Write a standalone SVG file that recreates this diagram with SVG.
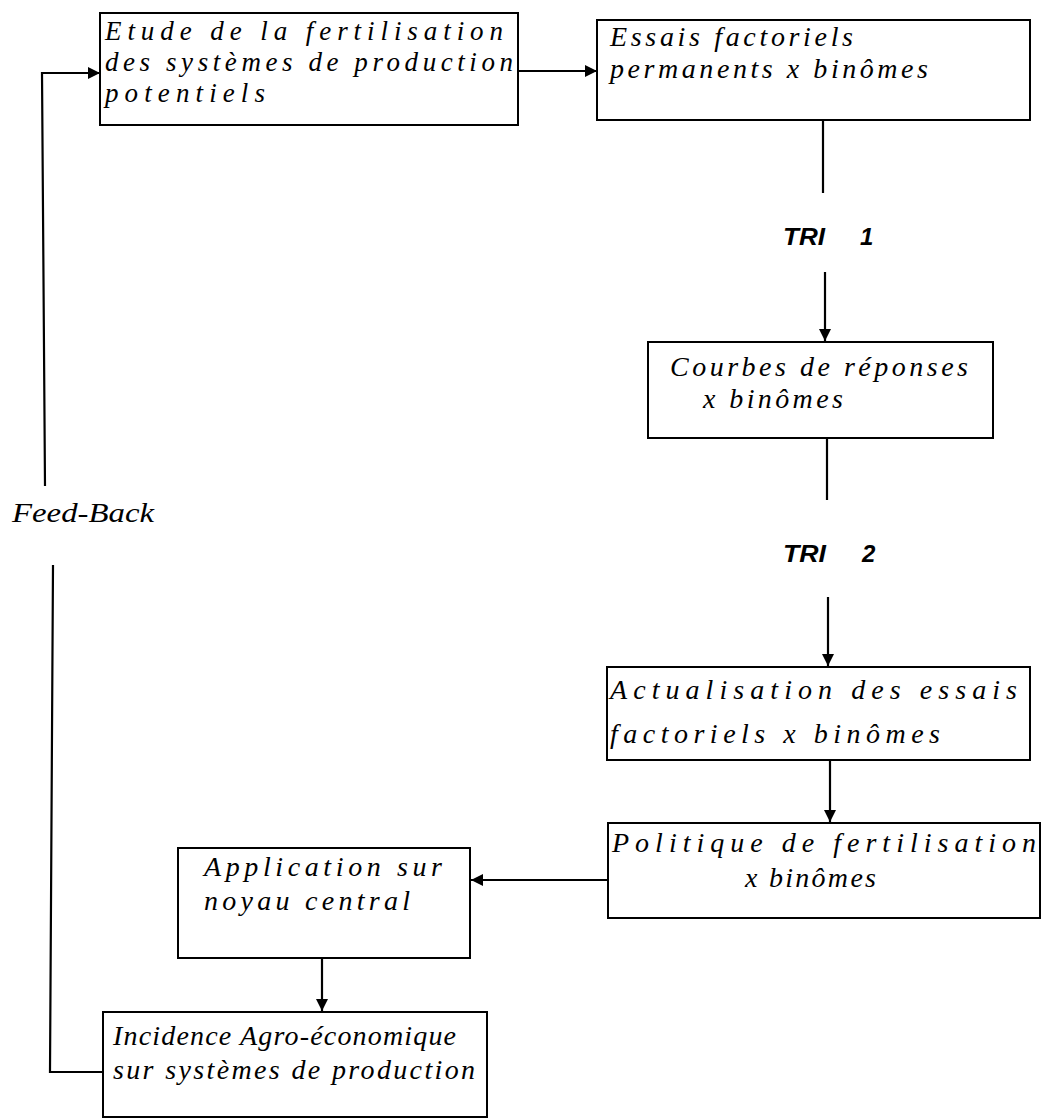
<svg xmlns="http://www.w3.org/2000/svg" width="1049" height="1119" viewBox="0 0 1049 1119">
  <style>
    .box { fill: #fff; stroke: #000; stroke-width: 2; }
    .hand { font-family: "Liberation Serif", "DejaVu Serif", serif; font-style: italic; font-size: 28px; fill: #000; }
    .small { font-size: 27px; }
    .tri { font-family: "Liberation Sans", "DejaVu Sans", sans-serif; font-style: italic; font-weight: bold; font-size: 24px; fill: #000; }
    .wire { fill: none; stroke: #000; stroke-width: 2.2; }
  </style>
  <defs>
    <marker id="head" markerUnits="userSpaceOnUse" markerWidth="14" markerHeight="12" refX="12" refY="6" orient="auto">
      <path d="M0,0 L12,6 L0,12 Z" fill="#000"/>
    </marker>
  </defs>
  <rect width="1049" height="1119" fill="#fff"/>

  <!-- flow connectors -->
  <g id="connectors">
    <path class="wire" d="M518,71 L597,71" marker-end="url(#head)"/>
    <path class="wire" d="M823,120 L823,193"/>
    <path class="wire" d="M825,272 L825,341" marker-end="url(#head)"/>
    <path class="wire" d="M827,438 L827,500"/>
    <path class="wire" d="M828,597 L828,666" marker-end="url(#head)"/>
    <path class="wire" d="M830,760 L830,822" marker-end="url(#head)"/>
    <path class="wire" d="M608,880 L471,880" marker-end="url(#head)"/>
    <path class="wire" d="M322,958 L322,1011" marker-end="url(#head)"/>
    <!-- feed-back loop -->
    <path class="wire" d="M103,1072 L50,1072 L53,565"/>
    <path class="wire" d="M45,486 L42,73 L100,73" marker-end="url(#head)"/>
    <text class="hand" x="12" y="522" textLength="142" lengthAdjust="spacingAndGlyphs">Feed-Back</text>
    <text class="tri" x="783" y="245" textLength="42" lengthAdjust="spacingAndGlyphs">TRI</text>
    <text class="tri" x="860" y="245">1</text>
    <text class="tri" x="783" y="562" textLength="43" lengthAdjust="spacingAndGlyphs">TRI</text>
    <text class="tri" x="862" y="562">2</text>
  </g>

  <g id="etude">
    <rect class="box" x="100" y="13" width="418" height="112"/>
    <text class="hand small" x="105" y="40" textLength="398" lengthAdjust="spacing">Etude de la fertilisation</text>
    <text class="hand small" x="105" y="71" textLength="408" lengthAdjust="spacing">des systèmes de production</text>
    <text class="hand small" x="105" y="102" textLength="160" lengthAdjust="spacing">potentiels</text>
  </g>

  <g id="essais">
    <rect class="box" x="597" y="20" width="433" height="100"/>
    <text class="hand" x="610" y="46" textLength="243" lengthAdjust="spacing">Essais factoriels</text>
    <text class="hand" x="610" y="78" textLength="318" lengthAdjust="spacing">permanents x binômes</text>
  </g>

  <g id="courbes">
    <rect class="box" x="648" y="342" width="345" height="96"/>
    <text class="hand" x="670" y="376" textLength="298" lengthAdjust="spacing">Courbes de réponses</text>
    <text class="hand" x="703" y="408" textLength="140" lengthAdjust="spacing">x binômes</text>
  </g>

  <g id="actualisation">
    <rect class="box" x="607" y="667" width="423" height="93"/>
    <text class="hand" x="610" y="699" textLength="407" lengthAdjust="spacing">Actualisation des essais</text>
    <text class="hand" x="610" y="743" textLength="330" lengthAdjust="spacing">factoriels x binômes</text>
  </g>

  <g id="politique">
    <rect class="box" x="608" y="823" width="432" height="95"/>
    <text class="hand" x="612" y="852" textLength="424" lengthAdjust="spacing">Politique de fertilisation</text>
    <text class="hand" x="745" y="887" textLength="131" lengthAdjust="spacing">x binômes</text>
  </g>

  <g id="application">
    <rect class="box" x="178" y="848" width="292" height="110"/>
    <text class="hand" x="204" y="876" textLength="238" lengthAdjust="spacing">Application sur</text>
    <text class="hand" x="204" y="910" textLength="206" lengthAdjust="spacing">noyau central</text>
  </g>

  <g id="incidence">
    <rect class="box" x="103" y="1012" width="384" height="105"/>
    <text class="hand" x="113" y="1045" textLength="343" lengthAdjust="spacing">Incidence Agro-économique</text>
    <text class="hand" x="113" y="1079" textLength="362" lengthAdjust="spacing">sur systèmes de production</text>
  </g>
</svg>
